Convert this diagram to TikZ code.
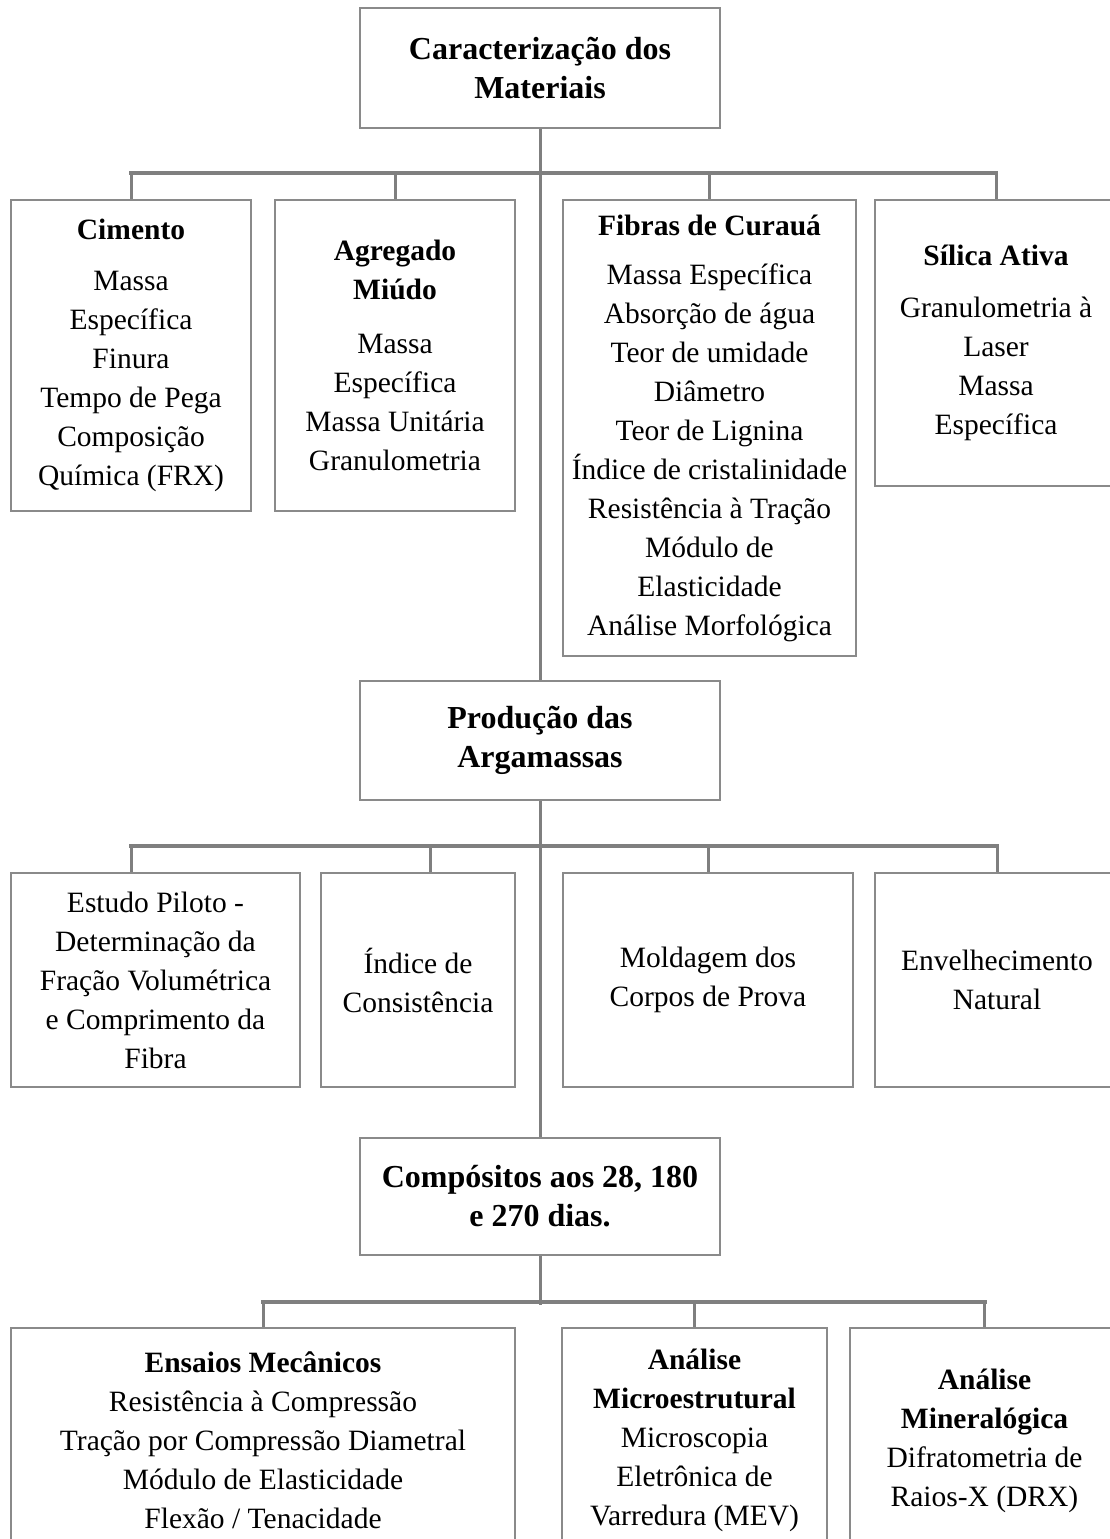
\documentclass[tikz,border=0pt]{standalone}
\usepackage{fontspec}
\setmainfont{Liberation Serif}
\usepackage{tikz}
\definecolor{lineGray}{HTML}{7F7F7F}
\definecolor{boxGray}{HTML}{8A8A8A}
\newcommand{\txtfont}{\fontsize{11.8}{15.6}\selectfont}
\newcommand{\hdrfont}{\fontsize{12.8}{15.6}\selectfont\bfseries}
\tikzset{
  hdrbox/.style={draw=boxGray, line width=0.8pt, minimum width=144pt,
                 align=center, font=\hdrfont, inner sep=0pt, anchor=north},
  itembox/.style={draw=boxGray, line width=0.8pt, align=center,
                  font=\txtfont, inner sep=0pt, anchor=north west},
  busline/.style={lineGray, line width=1.6pt, line cap=rect},
  dropline/.style={lineGray, line width=1.2pt},
}

\begin{document}
\begin{tikzpicture}[x=0.4pt, y=-0.4pt]
\fill[white] (0,0) rectangle (1110,1539);
\useasboundingbox (0,0) rectangle (1110,1539);

%% Stage 1: Caracterizacao
\node[hdrbox, minimum height=48pt] (carac) at (540,7) {Caracterização dos\\Materiais};
\node[itembox, minimum width=96pt, minimum height=124.4pt] (cim) at (10,199)
  {\textbf{Cimento}\\[5pt]Massa\\Específica\\Finura\\Tempo de Pega\\Composição\\Química (FRX)};
\node[itembox, minimum width=96pt, minimum height=124.4pt] (agr) at (274,199)
  {\textbf{Agregado}\\\textbf{Miúdo}\\[6pt]Massa\\Específica\\Massa Unitária\\Granulometria};
\node[itembox, minimum width=117.2pt, minimum height=182.4pt] (fib) at (562,199)
  {\textbf{Fibras de Curauá}\\[4pt]Massa Específica\\Absorção de água\\Teor de umidade\\Diâmetro\\Teor de Lignina\\Índice de cristalinidade\\Resistência à Tração\\Módulo de\\Elasticidade\\Análise Morfológica};
\node[itembox, minimum width=96.8pt, minimum height=114.4pt] (sil) at (874,199)
  {\textbf{Sílica Ativa}\\[5pt]Granulometria à\\Laser\\Massa\\Específica};

%% Stage 2: Producao
\node[hdrbox, minimum height=47.6pt] (prod) at (540,680) {Produção das\\Argamassas};
\node[itembox, minimum width=115.6pt, minimum height=85.6pt] (est) at (10,872)
  {Estudo Piloto -\\Determinação da\\Fração Volumétrica\\e Comprimento da\\Fibra};
\node[itembox, minimum width=77.6pt, minimum height=85.6pt] (ind) at (320,872)
  {Índice de\\Consistência};
\node[itembox, minimum width=116pt, minimum height=85.6pt] (mold) at (562,872)
  {Moldagem dos\\Corpos de Prova};
\node[itembox, minimum width=97.6pt, minimum height=85.6pt] (env) at (874,872)
  {Envelhecimento\\Natural};

%% Stage 3: Compositos
\node[hdrbox, minimum height=46.8pt] (comp) at (540,1137) {Compósitos aos 28, 180\\e 270 dias.};
\node[itembox, minimum width=201.6pt, minimum height=90pt] (ens) at (10,1327)
  {\textbf{Ensaios Mecânicos}\\Resistência à Compressão\\Tração por Compressão Diametral\\Módulo de Elasticidade\\Flexão / Tenacidade};
\node[itembox, minimum width=106pt, minimum height=90pt] (mic) at (561,1327)
  {\textbf{Análise}\\\textbf{Microestrutural}\\Microscopia\\Eletrônica de\\Varredura (MEV)};
\node[itembox, minimum width=107.6pt, minimum height=90pt] (min) at (849,1327)
  {\textbf{Análise}\\\textbf{Mineralógica}\\Difratometria de\\Raios-X (DRX)};

%% Connectors
\coordinate (bus1) at (540,173);
\coordinate (bus2) at (540,846);
\coordinate (bus3) at (540,1302);
\coordinate (estTop) at ([xshift=-9.8pt]est.north);
\coordinate (indTop) at ([xshift=4.8pt]ind.north);
\draw[dropline] (carac.south) -- (prod.north);
\draw[dropline] (prod.south) -- (comp.north);
\draw[dropline, shorten >=-1.2pt] (comp.south) -- (comp.south |- bus3);
\draw[busline] (cim.north |- bus1) -- (sil.north |- bus1);
\foreach \n in {cim,agr,fib,sil}
  \draw[dropline] (\n.north |- bus1) -- (\n.north);
\draw[busline] (estTop |- bus2) -- (env.north |- bus2);
\foreach \n in {estTop,indTop,mold.north,env.north}
  \draw[dropline] (\n |- bus2) -- (\n);
\draw[busline] (ens.north |- bus3) -- (min.north |- bus3);
\foreach \n in {ens,mic,min}
  \draw[dropline] (\n.north |- bus3) -- (\n.north);
\end{tikzpicture}
\end{document}
